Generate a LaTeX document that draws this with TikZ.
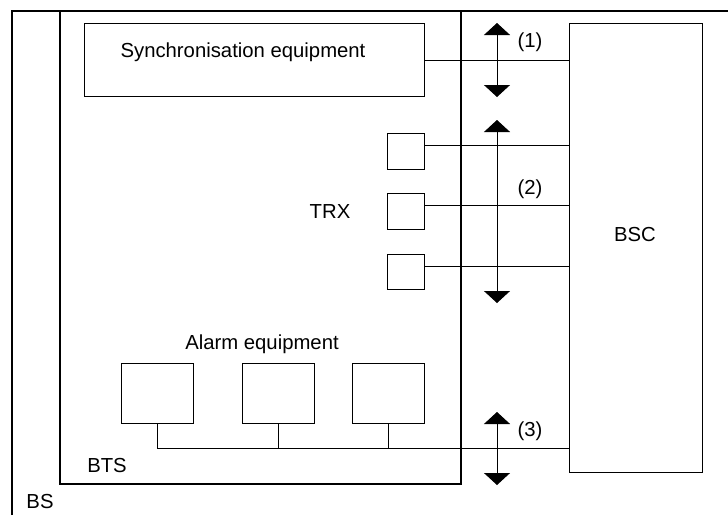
\documentclass[tikz,border=0pt]{standalone}
\usepackage{fontspec}
\setmainfont{Liberation Sans}
\usetikzlibrary{arrows.meta}

\tikzset{
  unit/.style={draw, line width=.8pt, inner sep=0pt, anchor=north west},
  wire/.style={line width=.8pt},
  both/.style={line width=.8pt, {Triangle[width=26pt,length=12pt]}-{Triangle[width=26pt,length=12pt]}},
  frame/.style={line width=2pt}
}

\begin{document}
\begin{tikzpicture}[x=1pt,y=-1pt,font=\fontsize{20.3}{24}\selectfont]
  \useasboundingbox (0,0) rectangle (728,515);
  \draw [frame] (12,515) -- (12,11) -- (728,11);
  \draw [frame] (60,11) rectangle (461,484);
  \node (sync) [unit, minimum width=340pt, minimum height=73pt] at (84,23) {};
  \node (bsc) [unit, minimum width=133pt, minimum height=449pt] at (569,23) {};
  \node (trxA) [unit, minimum width=37pt, minimum height=36pt] at (387,133) {};
  \node (trxB) [unit, minimum width=37pt, minimum height=36pt] at (387,193) {};
  \node (trxC) [unit, minimum width=37pt, minimum height=35pt] at (387,254) {};
  \node (alarmA) [unit, minimum width=72pt, minimum height=60pt] at (121,363) {};
  \node (alarmB) [unit, minimum width=72pt, minimum height=60pt] at (242,363) {};
  \node (alarmC) [unit, minimum width=72pt, minimum height=60pt] at (352,363) {};
  \node (synctext) at (243,52) {Synchronisation equipment};
  \node (bsctext) at (635,235) {BSC};
  \node (trx) at (330,212) {TRX};
  \node (alarm) at (262,344) {Alarm equipment};
  \node (bts) at (107,466) {BTS};
  \node (bs) at (40,502) {BS};
  \draw [wire] (sync.east) -- (sync.east -| bsc.west);
  \draw [wire] ([yshift=6pt]trxA.east) coordinate (a1) -- (a1 -| bsc.west);
  \draw [wire] ([yshift=6pt]trxB.east) coordinate (b1) -- (b1 -| bsc.west);
  \draw [wire] ([yshift=6pt]trxC.east) coordinate (c1) -- (c1 -| bsc.west);
  \coordinate (bus) at (157,448);
  \draw [wire] (alarmA.south) -- (alarmA.south |- bus) -- (bus -| bsc.west);
  \draw [wire] (alarmB.south) -- (alarmB.south |- bus);
  \draw [wire] (alarmC.south) -- (alarmC.south |- bus);
  \coordinate (ifA1) at (497,23);
  \coordinate (ifA2) at (497,97);
  \coordinate (ifB1) at (497,120);
  \coordinate (ifB2) at (497,303);
  \coordinate (ifC1) at (497,412);
  \coordinate (ifC2) at (497,485);
  \draw [both] (ifA1) -- (ifA2);
  \draw [both] (ifB1) -- (ifB2);
  \draw [both] (ifC1) -- (ifC2);
  \node (lbA) at (530,42) {(1)};
  \node (lbB) at (530,189) {(2)};
  \node (lbC) at (530,431) {(3)};
\end{tikzpicture}
\end{document}
